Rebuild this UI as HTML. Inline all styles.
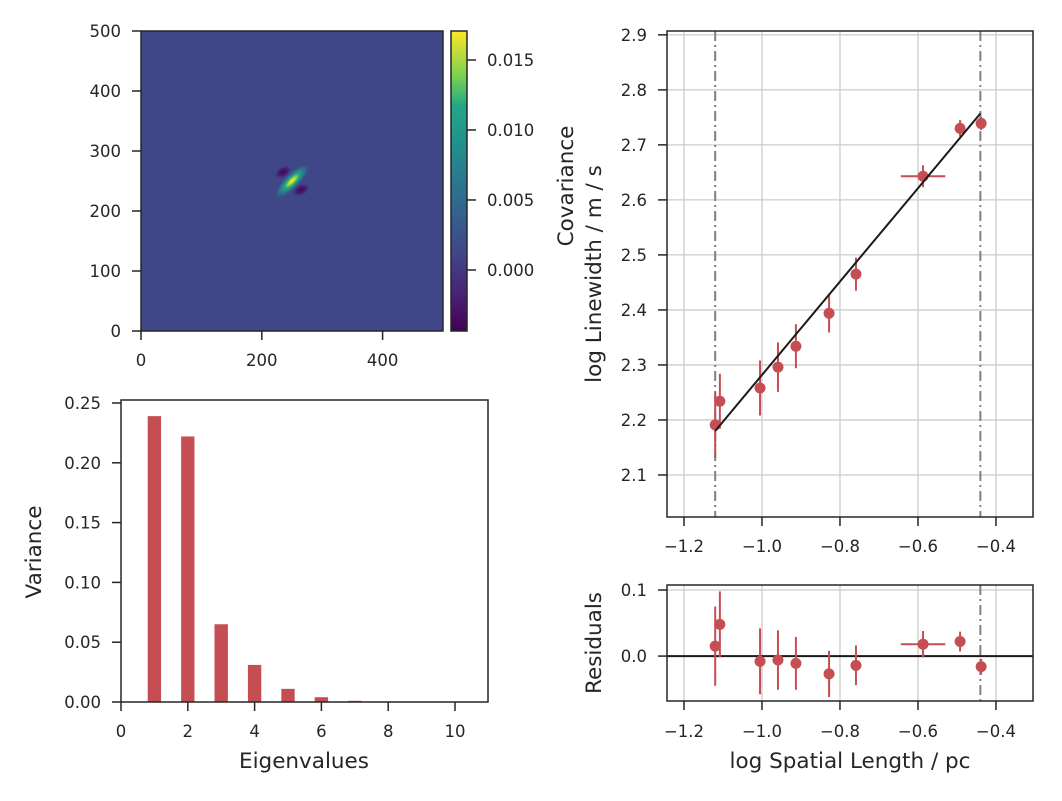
<!DOCTYPE html>
<html><head><meta charset="utf-8"><style>
body{margin:0;background:#fff;}
svg text{font-family:"DejaVu Sans","Liberation Sans",sans-serif;fill:#262626;}
</style></head><body>
<svg id="fig" width="1062" height="796" xmlns="http://www.w3.org/2000/svg">
<defs>
<linearGradient id="viridis" x1="0" y1="1" x2="0" y2="0">
<stop offset="0" stop-color="#440154"/><stop offset="0.13" stop-color="#482475"/><stop offset="0.25" stop-color="#414487"/><stop offset="0.38" stop-color="#355f8d"/><stop offset="0.5" stop-color="#2a788e"/><stop offset="0.63" stop-color="#21918c"/><stop offset="0.75" stop-color="#22a884"/><stop offset="0.85" stop-color="#7ad151"/><stop offset="1" stop-color="#fde725"/>
</linearGradient>
<radialGradient id="blob"><stop offset="0" stop-color="#fde725"/><stop offset="0.18" stop-color="#b5de2b"/><stop offset="0.4" stop-color="#22a884"/><stop offset="0.75" stop-color="#2a788e" stop-opacity="0.7"/><stop offset="1" stop-color="#3f4788" stop-opacity="0"/></radialGradient>
<radialGradient id="neg"><stop offset="0" stop-color="#440154"/><stop offset="0.55" stop-color="#46196b" stop-opacity="0.8"/><stop offset="1" stop-color="#3f4788" stop-opacity="0"/></radialGradient>
<clipPath id="clipR"><rect x="667" y="31" width="366" height="486"/></clipPath>
<clipPath id="clipRes"><rect x="667" y="585" width="366" height="116"/></clipPath>
</defs>
<g id="heat"></g>
<g id="bars"></g>
<g id="fitp"></g>
<g id="resp"></g>
</svg>
<script>
// ---- data ----
const heatTicks=[0,200,400];
const heatYTicks=[0,100,200,300,400,500];
const cbTicks=[0.000,0.005,0.010,0.015];
const cbLabels=["0.000","0.005","0.010","0.015"];
const eigen=[1,2,3,4,5,6,7,8,9,10];
const variance=[0.239,0.222,0.065,0.031,0.011,0.004,0.001,0.0005,0.0003,0.0002];
const barXTicks=[0,2,4,6,8,10];
const barYTicks=[0,0.05,0.10,0.15,0.20,0.25];
const barYLabels=["0.00","0.05","0.10","0.15","0.20","0.25"];
const logSize=[-1.120,-1.108,-1.005,-0.959,-0.913,-0.828,-0.759,-0.587,-0.492,-0.438];
const logLw=[2.191,2.234,2.258,2.296,2.334,2.394,2.465,2.643,2.730,2.739];
const lwErr=[0.06,0.05,0.05,0.045,0.04,0.035,0.03,0.02,0.015,0.012];
const sizeErr=[0,0,0,0,0,0,0,0.057,0,0];
const residuals=[0.015,0.048,-0.008,-0.006,-0.011,-0.027,-0.014,0.018,0.022,-0.016];
const fitX=[-1.12,-0.44];
const fitY=[2.180,2.757];
const fitRange=[-1.12,-0.44];
const rxTicks=[-1.2,-1.0,-0.8,-0.6,-0.4];
const rxLabels=["−1.2","−1.0","−0.8","−0.6","−0.4"];
const ryTicks=[2.1,2.2,2.3,2.4,2.5,2.6,2.7,2.8,2.9];
const resTicks=[0.0,0.1];
const resLabels=["0.0","0.1"];

const NS="http://www.w3.org/2000/svg";
const TF=16.5, LF=21.5, TL=9, LG=20;
function mk(p,tag,at,txt){const e=document.createElementNS(NS,tag);for(const k in at)e.setAttribute(k,at[k]);if(txt!==undefined)e.textContent=txt;p.appendChild(e);return e;}
function lin(d0,d1,r0,r1){return v=>r0+(v-d0)/(d1-d0)*(r1-r0);}
const RED="#c44e52";

// ---- heatmap ----
(function(){
const g=document.getElementById('heat');
const x=lin(0,500,141,443), y=lin(0,500,331,31);
let r=mk(g,'rect',{x:141,y:31,width:302,height:300,fill:'#3f4788'});

const cx=x(250),cy=y(250);
mk(g,'ellipse',{cx:cx-9,cy:cy-9,rx:10,ry:6,fill:'url(#neg)',transform:`rotate(-30 ${cx-9} ${cy-9})`});
mk(g,'ellipse',{cx:cx+9,cy:cy+9,rx:10,ry:6,fill:'url(#neg)',transform:`rotate(-30 ${cx+9} ${cy+9})`});
let b=mk(g,'ellipse',{cx:cx,cy:cy,rx:24,ry:8,fill:'url(#blob)',transform:`rotate(-45 ${cx} ${cy})`});

mk(g,'rect',{x:141,y:31,width:302,height:300,fill:'none',stroke:'#262626','stroke-width':1.5});
heatTicks.forEach(t=>{mk(g,'line',{x1:x(t),x2:x(t),y1:331,y2:331+TL,stroke:'#262626','stroke-width':1.5});
 let l=mk(g,'text',{x:x(t),y:366,'text-anchor':'middle','font-size':TF},t);});
heatYTicks.forEach(t=>{mk(g,'line',{x1:141-TL,x2:141,y1:y(t),y2:y(t),stroke:'#262626','stroke-width':1.5});
 let l=mk(g,'text',{x:141-LG,y:y(t)+6,'text-anchor':'end','font-size':TF},t);});
const c=lin(-0.00436,0.01707,331,31);
let cb=mk(g,'rect',{x:451,y:31,width:16,height:300,fill:'url(#viridis)',stroke:'#262626','stroke-width':1.5});

cbTicks.forEach((t,i)=>{mk(g,'line',{x1:467,x2:467+TL,y1:c(t),y2:c(t),stroke:'#262626','stroke-width':1.5});
 let l=mk(g,'text',{x:487,y:c(t)+6,'font-size':TF},cbLabels[i]);});
let cl=mk(g,'text',{x:0,y:0,'font-size':LF,'text-anchor':'middle',transform:'translate(573,186) rotate(-90)'},'Covariance');

})();

// ---- bar chart ----
(function(){
const g=document.getElementById('bars');
const x=lin(0,11,121,488.4), y=lin(0,0.2525,702,400);
eigen.forEach((e,i)=>{let r=mk(g,'rect',{x:x(e-0.2),y:y(variance[i]),width:x(0.4)-x(0),height:702-y(variance[i]),fill:RED});
 });
mk(g,'rect',{x:121,y:400,width:367,height:302,fill:'none',stroke:'#262626','stroke-width':1.5});
barXTicks.forEach(t=>{mk(g,'line',{x1:x(t),x2:x(t),y1:702,y2:702+TL,stroke:'#262626','stroke-width':1.5});
 let l=mk(g,'text',{x:x(t),y:737,'text-anchor':'middle','font-size':TF},t);});
barYTicks.forEach((t,i)=>{mk(g,'line',{x1:121-TL,x2:121,y1:y(t),y2:y(t),stroke:'#262626','stroke-width':1.5});
 let l=mk(g,'text',{x:121-LG,y:y(t)+6,'text-anchor':'end','font-size':TF},barYLabels[i]);});
let xl=mk(g,'text',{x:304,y:768,'text-anchor':'middle','font-size':LF},'Eigenvalues');
let yl=mk(g,'text',{x:0,y:0,'text-anchor':'middle','font-size':LF,transform:'translate(41,552) rotate(-90)'},'Variance');
})();

// ---- fit plot ----
const rx=lin(-1.2436,-0.305,667,1033);
function drawErr(g,x,y,xs,ys,es,xe,clip){
 const gg=mk(g,'g',{'clip-path':clip});
 xs.forEach((v,i)=>{
  mk(gg,'line',{x1:x(v),x2:x(v),y1:y(ys[i]-es[i]),y2:y(ys[i]+es[i]),stroke:RED,'stroke-width':2});
  if(xe[i]>0)mk(gg,'line',{x1:x(v-xe[i]),x2:x(v+xe[i]),y1:y(ys[i]),y2:y(ys[i]),stroke:RED,'stroke-width':2});
  let p=mk(gg,'circle',{cx:x(v),cy:y(ys[i]),r:5.5,fill:RED});
 });
}
function grid(g,x,y,xt,yt,x0,x1,y0,y1){
 xt.forEach(t=>mk(g,'line',{x1:x(t),x2:x(t),y1:y0,y2:y1,stroke:'#cccccc','stroke-width':1.3}));
 yt.forEach(t=>mk(g,'line',{x1:x0,x2:x1,y1:y(t),y2:y(t),stroke:'#cccccc','stroke-width':1.3}));
}
(function(){
const g=document.getElementById('fitp');
const y=lin(2.0236,2.907,517,31);
grid(g,rx,y,rxTicks,ryTicks,667,1033,31,517);
fitRange.forEach(v=>{let l=mk(g,'line',{x1:rx(v),x2:rx(v),y1:31,y2:517,stroke:'#808080','stroke-width':2,'stroke-dasharray':'10,4,2,4'});});
drawErr(g,rx,y,logSize,logLw,lwErr,sizeErr,'url(#clipR)');
let f=mk(g,'line',{x1:rx(fitX[0]),y1:y(fitY[0]),x2:rx(fitX[1]),y2:y(fitY[1]),stroke:'#1a1a1a','stroke-width':2});
mk(g,'rect',{x:667,y:31,width:366,height:486,fill:'none',stroke:'#262626','stroke-width':1.5});
rxTicks.forEach((t,i)=>{mk(g,'line',{x1:rx(t),x2:rx(t),y1:517,y2:517+TL,stroke:'#262626','stroke-width':1.5});
 let l=mk(g,'text',{x:rx(t),y:552,'text-anchor':'middle','font-size':TF},rxLabels[i]);});
ryTicks.forEach(t=>{mk(g,'line',{x1:667-TL,x2:667,y1:y(t),y2:y(t),stroke:'#262626','stroke-width':1.5});
 let l=mk(g,'text',{x:667-LG,y:y(t)+6,'text-anchor':'end','font-size':TF},t.toFixed(1));});
let yl=mk(g,'text',{x:0,y:0,'text-anchor':'middle','font-size':LF,transform:'translate(601,274) rotate(-90)'},'log Linewidth / m / s');
})();

// ---- residuals ----
(function(){
const g=document.getElementById('resp');
const y=lin(-0.068,0.1076,701,585);
grid(g,rx,y,rxTicks,resTicks,667,1033,585,701);
let fr=mk(g,'line',{x1:rx(fitRange[1]),x2:rx(fitRange[1]),y1:585,y2:701,stroke:'#808080','stroke-width':2,'stroke-dasharray':'10,4,2,4'});
let z=mk(g,'line',{x1:667,x2:1033,y1:y(0),y2:y(0),stroke:'#1a1a1a','stroke-width':2});
drawErr(g,rx,y,logSize,residuals,lwErr,sizeErr,'url(#clipRes)');
mk(g,'rect',{x:667,y:585,width:366,height:116,fill:'none',stroke:'#262626','stroke-width':1.5});
rxTicks.forEach((t,i)=>{mk(g,'line',{x1:rx(t),x2:rx(t),y1:701,y2:701+TL,stroke:'#262626','stroke-width':1.5});
 let l=mk(g,'text',{x:rx(t),y:737,'text-anchor':'middle','font-size':TF},rxLabels[i]);});
resTicks.forEach((t,i)=>{mk(g,'line',{x1:667-TL,x2:667,y1:y(t),y2:y(t),stroke:'#262626','stroke-width':1.5});
 let l=mk(g,'text',{x:667-LG,y:y(t)+6,'text-anchor':'end','font-size':TF},resLabels[i]);});
let xl=mk(g,'text',{x:850,y:768,'text-anchor':'middle','font-size':LF},'log Spatial Length / pc');
let yl=mk(g,'text',{x:0,y:0,'text-anchor':'middle','font-size':LF,transform:'translate(601,643) rotate(-90)'},'Residuals');
})();
</script>
</body></html>
